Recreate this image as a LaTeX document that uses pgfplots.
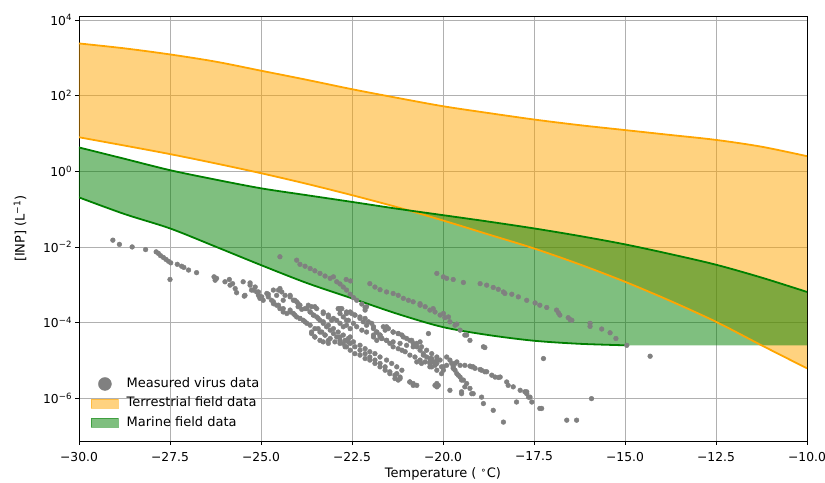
\documentclass[border=0pt]{standalone}
\usepackage{pgfplots}
\pgfplotsset{compat=1.18}
\usepackage{pgfplotstable}
\usepackage{fontspec}
\setmainfont{DejaVu Sans}

\definecolor{mplorange}{RGB}{255,165,0}
\definecolor{mplgreen}{RGB}{0,128,0}
\definecolor{mplgray}{RGB}{128,128,128}
\definecolor{gridgray}{RGB}{176,176,176}
\newcommand\tickfont{\fontsize{12.3bp}{14bp}\selectfont}
\newcommand\labfont{\fontsize{13bp}{15bp}\selectfont}

\pgfplotsset{
  patchleg/.style={legend image code/.code={\draw[##1] (0bp,-4.5bp) rectangle (27bp,4.5bp);}},
  dotleg/.style={legend image code/.code={\draw[mark repeat=2, mark phase=2, ##1] plot coordinates {(0bp,0bp) (13.5bp,0bp) (27bp,0bp)};}},
}

% terrestrial band: upper edge left to right, then lower edge right to left
\pgfplotstableread{
T       y
-30     2.40e3
-28.75  1.78e3
-27.5   1.23e3
-26.25  7.94e2
-25     4.57e2
-23.75  2.63e2
-22.5   1.48e2
-21.25  8.71e1
-20     5.25e1
-18.75  3.47e1
-17.5   2.34e1
-16.25  1.66e1
-15     1.23e1
-13.75  9.12
-12.5   6.76
-11.25  4.47
-10     2.51
-10     6.17e-6
-11.25  2.51e-5
-12.5   1.05e-4
-13.75  3.72e-4
-15     1.20e-3
-16.25  3.47e-3
-17.5   9.12e-3
-18.75  0.0214
-20     0.0501
-21.25  0.112
-22.5   0.234
-23.75  0.468
-25     0.891
-26.25  1.62
-27.5   2.85
-28.75  4.79
-30     7.94
}\terr

% marine band: upper edge left to right, then lower edge right to left
\pgfplotstableread{
T       y
-30     4.27
-28.75  2.14
-27.5   1.07
-26.25  0.603
-25     0.355
-23.75  0.234
-22.5   0.155
-21.25  0.102
-20     0.0692
-18.75  0.0468
-17.5   0.0309
-16.25  0.0195
-15     0.0117
-13.75  6.46e-3
-12.5   3.39e-3
-11.25  1.55e-3
-10     6.46e-4
-10     2.51e-5
-12.5   2.51e-5
-15     2.51e-5
-16.25  2.75e-5
-17.5   3.31e-5
-18.75  4.68e-5
-20     7.59e-5
-21.25  1.70e-4
-22.5   4.37e-4
-23.75  1.12e-3
-25     3.31e-3
-26.25  0.0102
-27.5   0.0309
-28.75  0.0741
-30     0.204
}\mar

% measured virus INP
\pgfplotstableread{
T       inp
-29.07  1.51e-2
-28.89  1.17e-2
-28.54  1.00e-2
-28.17  8.51e-3
-27.88  7.41e-3
-27.82  6.76e-3
-27.76  5.89e-3
-27.68  5.25e-3
-27.61  4.68e-3
-27.54  4.17e-3
-27.48  3.80e-3
-27.50  1.38e-3
-27.30  3.47e-3
-27.18  3.09e-3
-27.12  2.88e-3
-26.99  2.45e-3
-26.77  2.09e-3
-26.29  1.62e-3
-26.26  1.32e-3
-26.22  1.48e-3
-25.99  1.20e-3
-25.87  1.38e-3
-25.85  9.77e-4
-25.78  1.07e-3
-25.71  7.94e-4
-25.67  6.17e-4
-25.49  1.20e-3
-25.46  5.01e-4
-25.30  1.12e-3
-25.26  7.24e-4
-25.16  8.71e-4
-25.12  6.46e-4
-25.07  5.25e-4
-25.03  4.37e-4
-24.98  4.79e-4
-24.84  5.89e-4
-24.48  5.50e-3
-24.02  4.47e-3
-23.93  3.47e-3
-23.79  3.09e-3
-23.65  2.69e-3
-23.52  2.34e-3
-23.38  2.00e-3
-23.24  1.70e-3
-23.10  1.48e-3
-23.01  1.62e-3
-22.92  1.20e-3
-22.83  1.05e-3
-22.74  8.71e-4
-22.65  7.24e-4
-22.55  5.62e-4
-22.46  4.57e-4
-22.37  3.89e-4
-22.23  3.09e-4
-22.14  2.51e-4
-22.66  1.38e-3
-22.54  1.26e-3
-22.28  1.29e-4
-22.19  1.05e-4
-22.10  8.51e-5
-21.91  7.76e-5
-21.82  5.62e-5
-21.73  4.68e-5
-21.68  3.80e-5
-21.59  6.31e-5
-21.55  7.76e-5
-21.37  5.62e-5
-21.23  5.13e-5
-21.09  4.17e-5
-20.91  3.39e-5
-20.82  2.82e-5
-20.72  2.29e-5
-20.63  1.86e-5
-20.54  1.51e-5
-20.45  1.23e-5
-20.36  9.12e-6
-20.31  6.76e-6
-20.40  5.13e-5
-20.17  2.19e-6
-22.83  2.34e-4
-22.55  1.91e-4
-22.42  1.58e-4
-22.14  2.14e-4
-22.10  2.63e-4
-24.66  3.55e-4
-24.52  2.88e-4
-24.39  2.34e-4
-24.20  1.91e-4
-24.07  1.58e-4
-23.93  1.29e-4
-23.79  1.05e-4
-23.65  8.51e-5
-23.52  6.92e-5
-23.38  5.62e-5
-23.24  4.68e-5
-23.10  3.80e-5
-22.97  3.09e-5
-22.83  2.82e-5
-22.69  2.29e-5
-22.55  1.86e-5
-22.42  1.51e-5
-22.28  1.38e-5
-22.14  1.12e-5
-22.01  1.02e-5
-21.87  8.32e-6
-21.73  6.76e-6
-21.59  5.50e-6
-21.46  4.47e-6
-21.32  3.31e-6
-21.23  3.02e-6
-20.91  2.69e-6
-20.82  2.19e-6
-23.98  3.16e-4
-23.79  2.34e-4
-23.65  1.91e-4
-23.56  1.58e-4
-23.43  1.29e-4
-23.29  1.05e-4
-23.15  8.51e-5
-23.01  6.92e-5
-22.88  5.62e-5
-22.74  4.68e-5
-22.60  3.80e-5
-22.46  3.09e-5
-22.28  2.51e-5
-22.14  2.04e-5
-22.01  1.70e-5
-21.87  1.51e-5
-21.73  1.23e-5
-21.55  1.02e-5
-21.41  8.32e-6
-21.27  6.76e-6
-21.13  5.50e-6
-23.61  5.13e-5
-23.52  4.17e-5
-23.38  3.39e-5
-23.29  3.09e-5
-23.15  2.82e-5
-24.20  5.25e-4
-24.07  3.89e-4
-23.93  2.88e-4
-24.66  7.24e-4
-24.48  7.94e-4
-24.39  3.89e-4
-24.80  4.79e-4
-24.57  5.25e-4
-23.61  2.63e-4
-23.47  2.34e-4
-23.29  1.91e-4
-23.15  1.58e-4
-23.01  1.29e-4
-22.88  2.34e-4
-22.83  1.74e-4
-22.74  1.41e-4
-22.65  1.15e-4
-22.46  9.55e-5
-22.37  7.76e-5
-22.23  6.31e-5
-22.10  5.62e-5
-21.91  4.68e-5
-21.73  4.17e-5
-21.55  3.39e-5
-21.37  3.09e-5
-21.18  2.82e-5
-21.00  2.51e-5
-20.82  2.29e-5
-22.01  1.07e-3
-21.87  8.71e-4
-21.73  7.41e-4
-21.55  6.46e-4
-21.37  5.89e-4
-21.23  5.25e-4
-21.09  4.37e-4
-20.95  3.89e-4
-20.82  3.55e-4
-20.63  2.88e-4
-20.49  2.63e-4
-20.36  2.14e-4
-20.22  1.91e-4
-20.08  1.58e-4
-19.95  1.35e-4
-19.81  1.05e-4
-19.67  8.51e-5
-19.53  6.31e-5
-19.40  4.68e-5
-19.26  3.39e-5
-20.63  3.16e-4
-20.27  2.34e-4
-19.99  1.74e-4
-19.85  1.41e-4
-19.62  9.12e-5
-19.35  4.68e-5
-18.85  2.19e-5
-18.89  2.29e-5
-20.17  2.00e-3
-19.99  1.62e-3
-19.90  1.48e-3
-19.72  1.38e-3
-19.44  1.15e-3
-18.98  1.07e-3
-18.80  9.77e-4
-18.62  8.51e-4
-18.48  7.59e-4
-18.34  6.46e-4
-18.30  5.89e-4
-18.11  5.62e-4
-17.93  4.79e-4
-17.70  3.89e-4
-17.47  3.31e-4
-17.34  2.88e-4
-17.15  2.51e-4
-16.88  2.14e-4
-16.83  1.82e-4
-16.79  1.58e-4
-16.56  1.35e-4
-16.51  1.20e-4
-16.46  1.15e-4
-15.96  9.55e-5
-15.96  7.94e-5
-15.64  6.76e-5
-15.41  5.37e-5
-15.25  3.80e-5
-14.95  2.51e-5
-14.31  1.29e-5
-20.54  1.38e-5
-20.31  1.12e-5
-20.17  1.02e-5
-20.59  8.32e-6
-19.99  6.76e-6
-19.90  1.23e-5
-19.81  1.02e-5
-19.67  8.32e-6
-19.53  7.41e-6
-19.40  7.41e-6
-19.17  6.76e-6
-18.94  5.50e-6
-18.80  5.01e-6
-18.66  4.07e-6
-18.48  3.55e-6
-18.25  2.69e-6
-18.21  2.19e-6
-18.07  2.00e-6
-17.88  1.62e-6
-17.70  1.32e-6
-17.56  7.94e-7
-19.72  6.17e-6
-19.62  4.47e-6
-19.53  3.63e-6
-19.44  3.02e-6
-19.35  2.45e-6
-19.26  1.82e-6
-19.17  1.32e-6
-20.17  2.45e-6
-20.17  2.00e-6
-19.81  1.62e-6
-19.49  1.32e-6
-18.94  1.07e-6
-18.89  7.24e-7
-18.62  4.79e-7
-18.34  2.34e-7
-17.98  7.94e-7
-17.34  5.37e-7
-16.60  2.63e-7
-16.33  2.63e-7
-15.92  9.77e-7
-17.24  1.12e-5
-19.26  7.08e-6
-18.98  5.75e-6
-18.43  3.63e-6
-17.61  1.07e-6
-17.70  1.48e-6
-20.82  2.45e-6
-20.72  2.19e-6
-21.27  4.47e-6
-21.18  3.63e-6
-25.30  9.77e-4
-25.44  5.25e-4
-25.21  7.24e-4
-25.07  6.46e-4
-25.03  4.79e-4
-24.94  3.89e-4
-24.80  5.62e-4
-24.71  3.89e-4
-24.66  3.16e-4
-24.57  2.88e-4
-24.52  7.24e-4
-24.43  6.46e-4
-24.34  5.25e-4
-24.20  4.79e-4
-24.11  3.89e-4
-24.02  3.55e-4
-23.98  2.63e-4
-23.88  2.24e-4
-24.48  2.34e-4
-24.39  1.91e-4
-24.29  1.74e-4
-24.20  2.14e-4
-24.11  1.74e-4
-24.02  1.41e-4
-23.93  1.29e-4
-23.84  1.15e-4
-23.74  9.55e-5
-23.61  5.62e-5
-23.52  4.17e-5
-23.43  6.92e-5
-23.33  5.62e-5
-23.24  4.68e-5
-23.15  3.39e-5
-23.74  2.34e-4
-23.65  1.91e-4
-23.56  1.58e-4
-23.47  1.41e-4
-23.38  1.15e-4
-23.29  9.55e-5
-23.20  7.76e-5
-23.10  6.31e-5
-23.01  5.13e-5
-22.92  4.17e-5
-22.83  3.39e-5
-22.74  2.82e-5
-22.65  2.29e-5
-23.70  2.88e-4
-23.52  2.63e-4
-23.29  1.74e-4
-23.15  1.41e-4
-23.06  1.15e-4
-22.92  1.15e-4
-22.83  9.55e-5
-22.74  7.76e-5
-22.65  8.51e-5
-22.83  2.14e-4
-22.65  1.74e-4
-22.60  1.15e-4
-22.55  6.92e-5
-22.55  4.17e-5
-22.60  3.09e-5
-22.78  2.34e-4
-22.65  1.91e-4
-22.51  1.74e-4
-22.42  1.58e-4
-22.28  1.41e-4
-22.14  1.29e-4
-22.05  1.05e-4
-21.96  9.55e-5
-21.91  6.92e-5
-21.82  5.62e-5
-21.73  4.68e-5
-21.91  4.17e-5
-21.82  3.39e-5
-21.68  3.80e-5
-21.55  3.39e-5
-21.46  2.82e-5
-21.37  2.29e-5
-21.23  2.04e-5
-21.13  1.86e-5
-21.04  1.70e-5
-20.91  1.38e-5
-20.77  1.23e-5
-20.63  1.02e-5
-20.49  9.12e-6
-20.36  8.32e-6
-20.22  7.41e-6
-21.64  7.76e-5
-21.50  6.92e-5
-21.37  5.62e-5
-21.23  5.13e-5
-21.13  4.68e-5
-21.00  3.80e-5
-20.86  3.39e-5
-20.72  2.82e-5
-20.59  2.29e-5
-20.45  1.86e-5
-20.31  1.51e-5
-20.17  1.23e-5
-20.08  1.02e-5
-20.63  3.09e-5
-22.83  4.17e-5
-22.69  3.39e-5
-22.55  2.82e-5
-22.42  2.29e-5
-22.28  1.86e-5
-22.14  1.51e-5
-22.01  1.23e-5
-21.87  1.02e-5
-21.73  8.32e-6
-21.59  6.76e-6
-21.46  5.01e-6
-21.32  4.07e-6
-21.18  3.31e-6
-20.91  2.69e-6
-20.72  9.12e-6
-20.36  6.76e-6
-20.17  5.50e-6
-20.04  4.47e-6
-19.90  7.41e-6
-20.13  2.19e-6
-20.36  1.12e-5
-20.27  9.12e-6
-20.17  8.32e-6
-20.04  6.76e-6
-19.99  5.50e-6
-19.76  8.32e-6
-19.72  6.76e-6
-19.67  5.50e-6
-19.58  4.07e-6
-19.49  3.02e-6
-19.40  2.00e-6
-19.21  1.32e-6
-19.62  9.12e-6
-19.21  6.76e-6
-19.12  6.17e-6
-18.85  5.01e-6
-18.57  3.63e-6
-17.75  1.48e-6
-17.65  1.07e-6
-20.22  2.19e-6
-19.49  1.48e-6
-17.29  5.37e-7
}\virus

\begin{document}
\begin{tikzpicture}
\useasboundingbox (-79bp,-42bp) rectangle (746bp,441bp);
\begin{axis}[
    width=728bp, height=425bp, scale only axis,
    xmin=-30, xmax=-10,
    ymode=log, ymin=7.4e-8, ymax=1.276e4,
    xtick={-30,-27.5,-25,-22.5,-20,-17.5,-15,-12.5,-10},
    xticklabels={−30.0,−27.5,−25.0,−22.5,−20.0,−17.5,−15.0,−12.5,−10.0},
    ytick={1e-6,1e-4,1e-2,1,1e2,1e4},
    yticklabels={10\textsuperscript{−6},10\textsuperscript{−4},10\textsuperscript{−2},10\textsuperscript{0},10\textsuperscript{2},10\textsuperscript{4}},
    yminorticks=false,
    xtick pos=left, ytick pos=left,
    tick align=outside,
    major tick length=3.5bp,
    tick style={black, line width=0.8bp},
    axis line style={black, line width=0.8bp},
    grid=major,
    major grid style={gridgray, line width=0.8bp},
    tick label style={font=\tickfont},
    xticklabel style={yshift=-4bp},
    xlabel={Temperature ( \textsuperscript{∘}C)},
    ylabel={[INP] (L\textsuperscript{−1})},
    label style={font=\labfont},
    xlabel style={at={(axis description cs:0.5,-0.086)}, anchor=base},
    ylabel style={at={(axis description cs:-0.081,0.5)}, anchor=center},
    legend style={at={(axis description cs:0.0124,0.0182)}, anchor=south west,
        draw=none, fill=none, font=\labfont,
        nodes={inner sep=2bp, text height=9.5bp, text depth=2.7bp},
        row sep=3.3bp,
        /tikz/every odd column/.append style={column sep=6bp}},
    legend cell align=left,
]
% filled bands
\addplot[fill=mplorange, fill opacity=0.5, draw=none, forget plot] table[x=T, y=y] {\terr};
\addplot[fill=mplgreen, fill opacity=0.5, draw=none, forget plot] table[x=T, y=y] {\mar};

% edge lines
\addplot[mplorange, line width=1.8bp, smooth, forget plot, restrict expr to domain={\coordindex}{0:16}] table[x=T, y=y] {\terr};
\addplot[mplorange, line width=1.8bp, smooth, forget plot, restrict expr to domain={\coordindex}{17:33}] table[x=T, y=y] {\terr};
\addplot[mplgreen, line width=1.8bp, smooth, forget plot, restrict expr to domain={\coordindex}{0:16}] table[x=T, y=y] {\mar};
\addplot[mplgreen, line width=1.8bp, smooth, forget plot, restrict expr to domain={\coordindex}{19:31}] table[x=T, y=y] {\mar};

% virus measurements
\addplot[only marks, mark=*, mark size=2.4bp, mplgray, forget plot] table[x=T, y=inp] {\virus};

% legend
\addlegendimage{dotleg, only marks, mark=*, mark size=6.5bp, mplgray}
\addlegendentry{Measured virus data}
\addlegendimage{patchleg, fill=mplorange, draw=mplorange, fill opacity=0.5, draw opacity=0.5}
\addlegendentry{Terrestrial field data}
\addlegendimage{patchleg, fill=mplgreen, draw=mplgreen, fill opacity=0.5, draw opacity=0.5}
\addlegendentry{Marine field data}
\end{axis}
\end{tikzpicture}
\end{document}
